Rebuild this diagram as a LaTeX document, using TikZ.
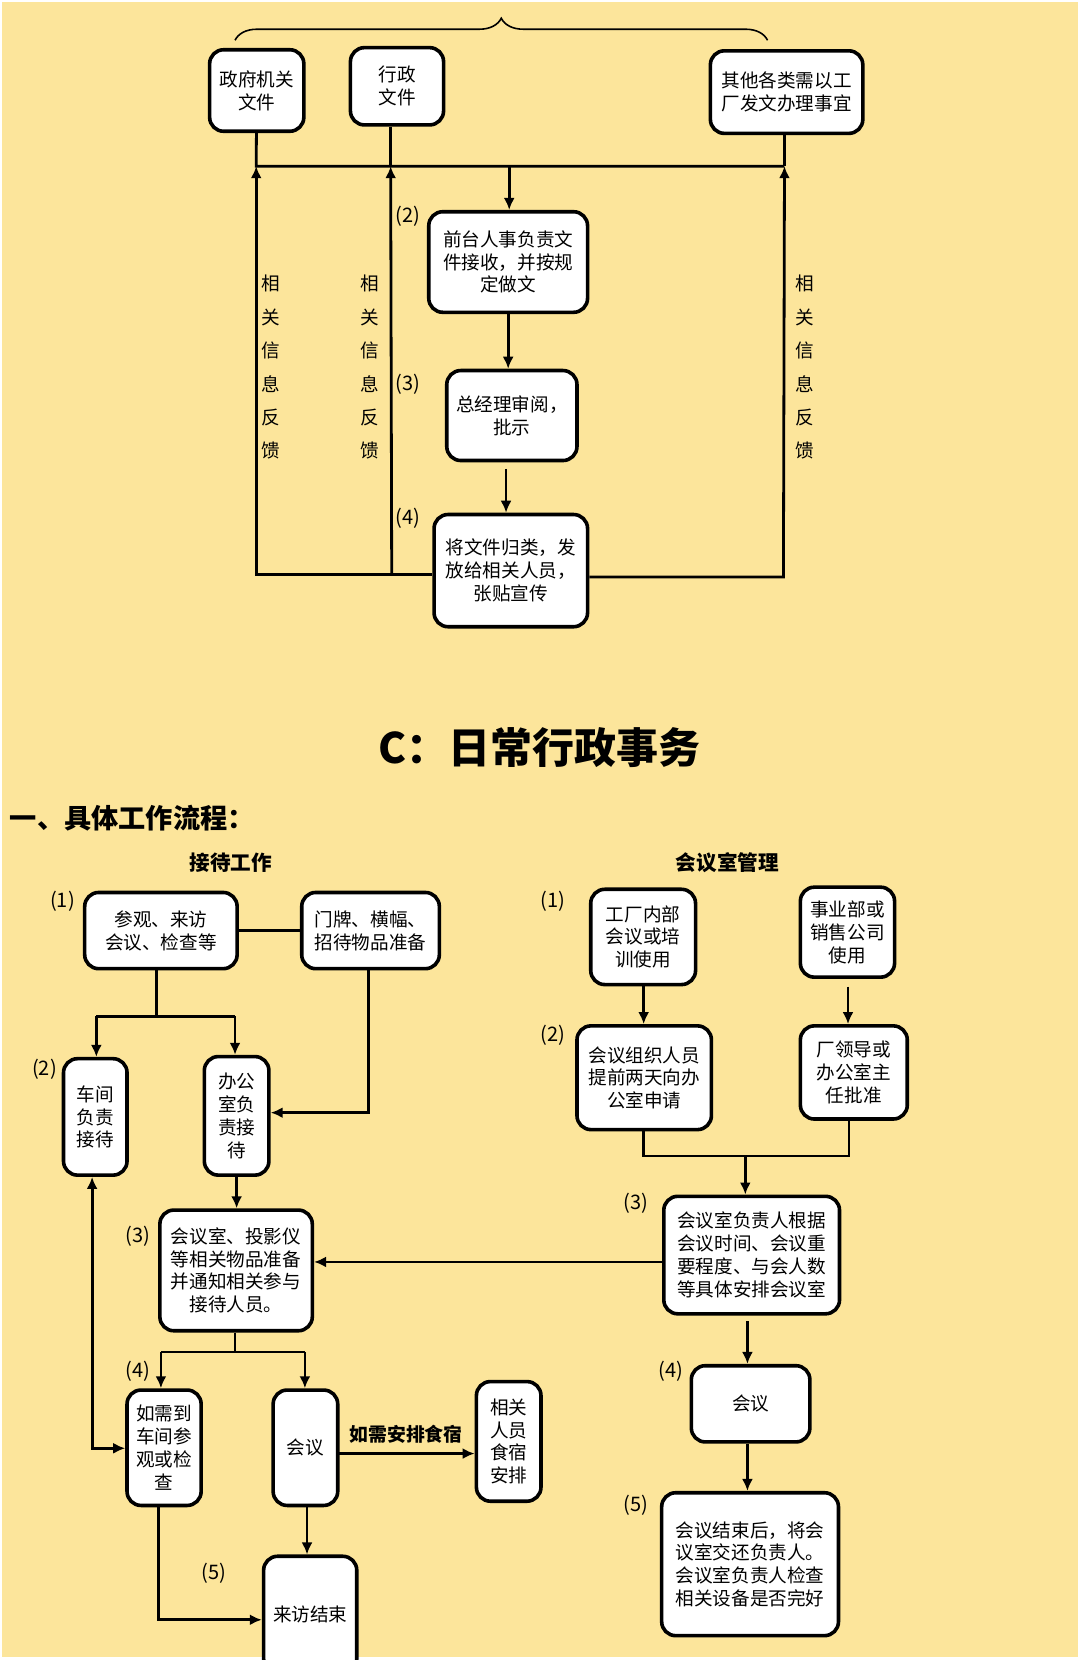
\documentclass[tikz,border=0pt]{standalone}
\usepackage{fontspec}
\setmainfont{Noto Sans CJK SC}
\usetikzlibrary{arrows.meta}
\usetikzlibrary{calc}
\usetikzlibrary{decorations.pathreplacing}
\definecolor{bgyellow}{RGB}{252,229,155}
\newdimen\pxu
\pxu=0.5294pt

\begin{document}
\begin{tikzpicture}[x=\pxu,y=-\pxu,>={Latex[length=6pt,width=5.5pt]},
  line width=1.4pt,
  box/.style={draw,fill=white,rounded corners=7pt,line width=1.8pt,align=center,inner sep=1pt,
    font=\fontsize{9.3}{11.4}\selectfont},
  num/.style={font=\fontsize{10}{12}\selectfont},
  vert/.style={align=center,font=\fontsize{9.3}{16.7}\selectfont}]
\useasboundingbox (0,0) rectangle (1020,1568);
\fill[white] (0,0) rectangle (1020,1568);
\fill[bgyellow] (2,2) rectangle (1018,1565);

% ---- top: document flow
\draw[line width=0.8pt,decorate,decoration={brace,amplitude=11pt}] (222,38) -- (725,38);
\node[box,minimum width=89\pxu,minimum height=77\pxu] (gov) at (242.5,85.5){政府机关\\文件};
\node[box,minimum width=88\pxu,minimum height=73\pxu] (xz) at (375,81.5){行政\\文件};
\node[box,minimum width=144\pxu,minimum height=78\pxu] (other) at (743,87){其他各类需以工\\厂发文办理事宜};
\node[box,minimum width=150\pxu,minimum height=95\pxu] (qt) at (480,247.5){前台人事负责文\\件接收，并按规\\定做文};
\node[box,minimum width=123\pxu,minimum height=85\pxu] (zjl) at (483.5,392.5){总经理审阅，\\批示};
\node[box,minimum width=145\pxu,minimum height=106\pxu] (jwj) at (482.5,539){将文件归类，发\\放给相关人员，\\张贴宣传};
\coordinate (b1) at (242,157);
\coordinate (b2) at (369,157);
\coordinate (b3) at (741,157);
\coordinate (b0) at (481,157);
\coordinate (f1) at (242,543);
\coordinate (f2) at (370,543);
\coordinate (f3) at (740,545);
\coordinate (z1) at (478,443);
\draw (gov) -- (b1) -- (b3);
\draw (xz.south -| b2) -- (b2);
\draw (other.south -| b3) -- (b3);
\draw[->] (b0) -- (b0 |- qt.north);
\draw[->] (qt.south) -- (qt.south |- zjl.north);
\draw[->] (z1) -- (z1 |- jwj.north);
\draw[->] (jwj.west |- f1) -- (f1) -- (b1);
\draw[->] (f2) -- (b2);
\draw[->] (jwj.east |- f3) -- (f3) -- (b3);
\node[vert] (lf1) at (256,347){相\\关\\信\\息\\反\\馈};
\node[vert] (lf2) at (349,347){相\\关\\信\\息\\反\\馈};
\node[vert] (lf3) at (760,347){相\\关\\信\\息\\反\\馈};
\node[num] (t2) at (385,204){(2)};
\node[num] (t3) at (385,363){(3)};
\node[num] (t4) at (385,490){(4)};

% ---- titles
\node[font=\fontsize{21}{24}\bfseries] (title) at (510,706){C：日常行政事务};
\node[anchor=west,inner sep=0pt,font=\fontsize{13.6}{16}\bfseries] (sec) at (8,773){一、具体工作流程：};
\node[font=\fontsize{10.3}{12}\bfseries] (jd) at (218,815){接待工作};
\node[font=\fontsize{10.3}{12}\bfseries] (hg) at (687,815){会议室管理};

% ---- reception
\node[box,minimum width=144\pxu,minimum height=72\pxu] (cg) at (152,879){参观、来访\\会议、检查等};
\node[box,minimum width=130\pxu,minimum height=72\pxu] (mp) at (350,879){门牌、横幅、\\招待物品准备};
\node[box,minimum width=60\pxu,minimum height=110\pxu] (cj) at (90,1055){车间\\负责\\接待};
\node[box,minimum width=61\pxu,minimum height=112\pxu] (bgs) at (223.5,1054){办公\\室负\\责接\\待};
\node[box,minimum width=144\pxu,minimum height=114\pxu] (hys) at (223,1200){会议室、投影仪\\等相关物品准备\\并通知相关参与\\接待人员。};
\node[box,minimum width=70\pxu,minimum height=109\pxu] (rx) at (155,1367.5){如需到\\车间参\\观或检\\查};
\node[box,minimum width=61\pxu,minimum height=109\pxu] (hy1) at (288.5,1367.5){会议};
\node[box,minimum width=61\pxu,minimum height=113\pxu] (ss) at (480.5,1361.5){相关\\人员\\食宿\\安排};
\node[box,minimum width=88\pxu,minimum height=110\pxu] (js) at (293,1525){来访结束};
\coordinate (s1) at (148,960);
\coordinate (s2) at (91,960);
\coordinate (s3) at (222,960);
\coordinate (m1) at (348,1051);
\coordinate (h1) at (222,1277);
\coordinate (h2) at (152,1277);
\coordinate (h3) at (288,1277);
\coordinate (q1) at (319,1373);
\coordinate (d1) at (87,1368);
\coordinate (e1) at (150,1530);
\coordinate (j1) at (290,1422);
\draw (cg) -- (mp);
\draw (cg.south -| s1) -- (s1);
\draw (s2) -- (s3);
\draw[->] (s2) -- (s2 |- cj.north);
\draw[->] (s3) -- (s3 |- bgs.north);
\draw[->] (mp.south -| m1) -- (m1) -- (m1 -| bgs.east);
\draw[->] (bgs.south) -- (bgs.south |- hys.north);
\draw (hys.south -| h1) -- (h1);
\draw (h2) -- (h3);
\draw[->] (h2) -- (h2 |- rx.north);
\draw[->] (h3) -- (h3 |- hy1.north);
\draw[->] (q1) -- (q1 -| ss.west) node[midway,above=1pt,font=\fontsize{9.4}{11}\bfseries]{如需安排食宿};
\draw[<->] (cj.south -| d1) -- (d1) -- (d1 -| rx.west);
\draw[->] (j1) -- (j1 |- js.north);
\draw[->] (rx.south -| e1) -- (e1) -- (e1 -| js.west);
\node[num] (r1) at (59,851){(1)};
\node[num] (r2) at (42,1010){(2)};
\node[num] (r3) at (130,1168){(3)};
\node[num] (r4) at (130,1295){(4)};
\node[num] (r5) at (202,1486){(5)};

% ---- meeting room
\node[box,minimum width=99\pxu,minimum height=90\pxu] (gc) at (607.5,885){工厂内部\\会议或培\\训使用};
\node[box,minimum width=89\pxu,minimum height=85\pxu] (sy) at (800.5,880.5){事业部或\\销售公司\\使用};
\node[box,minimum width=127\pxu,minimum height=98\pxu] (zz) at (608.5,1018){会议组织人员\\提前两天向办\\公室申请};
\node[box,minimum width=101\pxu,minimum height=88\pxu] (cld) at (806.5,1013){厂领导或\\办公室主\\任批准};
\node[box,minimum width=166\pxu,minimum height=111\pxu] (ap) at (710,1185.5){会议室负责人根据\\会议时间、会议重\\要程度、与会人数\\等具体安排会议室};
\node[box,minimum width=112\pxu,minimum height=72\pxu] (hy2) at (709,1326){会议};
\node[box,minimum width=167\pxu,minimum height=135\pxu] (jieshu) at (708.5,1477.5){会议结束后，将会\\议室交还负责人。\\会议室负责人检查\\相关设备是否完好};
\coordinate (g1) at (801,932);
\coordinate (k1) at (704,1092);
\coordinate (k2) at (802,1092);
\coordinate (k3) at (608,1092);
\coordinate (r) at (500,1192);
\coordinate (a1) at (706,1248);
\draw[->] (gc.south -| k3) -- (k3 |- zz.north);
\draw[->] (g1) -- (g1 |- cld.north);
\draw (zz.south -| k3) -- (k3) -- (k2) -- (cld.south -| k2);
\draw[->] (k1) -- (k1 |- ap.north);
\draw[->] (ap.west |- r) -- (hys.east |- r);
\draw[->] (a1) -- (a1 |- hy2.north);
\draw[->] (hy2.south -| a1) -- (a1 |- jieshu.north);
\node[num] (m1l) at (522,851){(1)};
\node[num] (m2l) at (522,978){(2)};
\node[num] (m3l) at (601,1137){(3)};
\node[num] (m4l) at (634,1295){(4)};
\node[num] (m5l) at (601,1422){(5)};
\end{tikzpicture}
\end{document}
